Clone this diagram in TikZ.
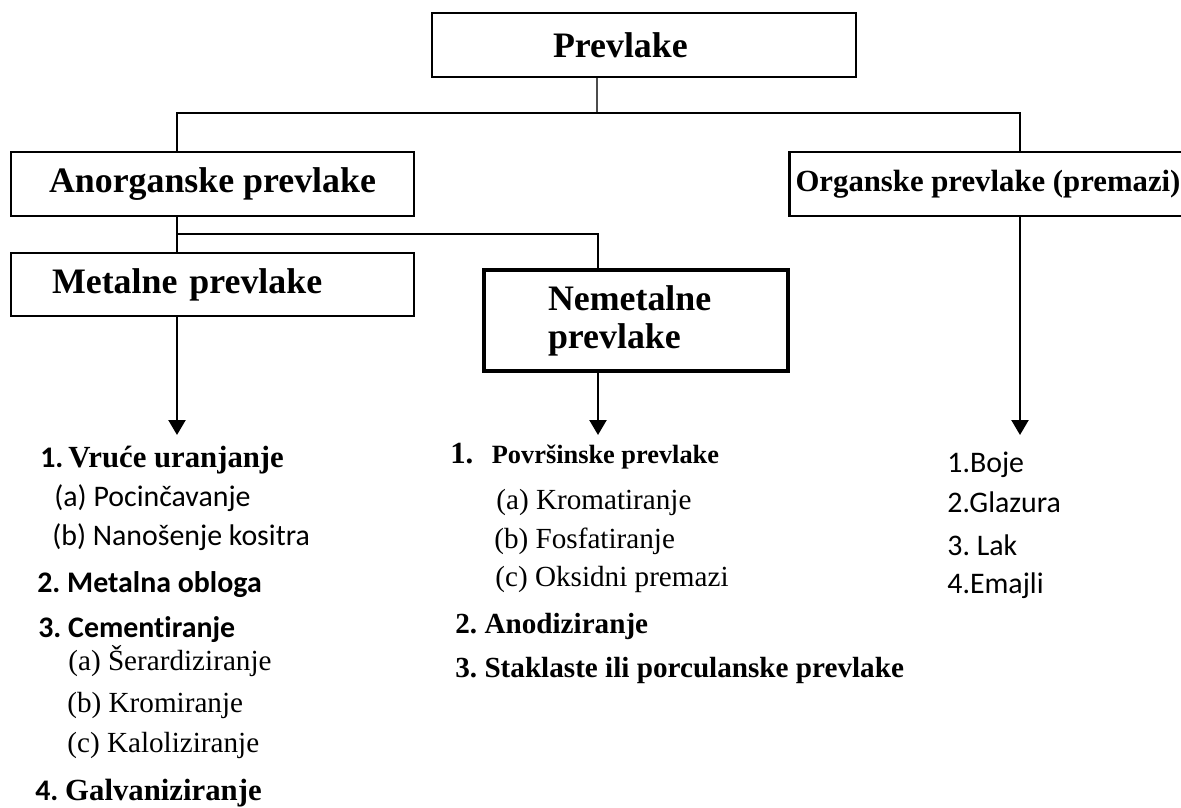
\documentclass[tikz,border=0pt]{standalone}
\usepackage{fontspec}
\setmainfont{Liberation Serif}
\newfontfamily\calfont[Ligatures=NoCommon]{Carlito}
\usepackage{tikz}
\usetikzlibrary{arrows.meta}
\frenchspacing
\newcommand{\calr}{\calfont\mdseries\fontsize{17}{20}\selectfont}
\newcommand{\calb}{\calfont\bfseries\fontsize{17}{20}\selectfont}
\newcommand{\tmr}{\rmfamily\mdseries\fontsize{16.6}{20}\selectfont}
\newcommand{\tmb}{\rmfamily\bfseries\fontsize{17.5}{20}\selectfont}
\newcommand{\tmbs}{\rmfamily\bfseries\fontsize{16.6}{20}\selectfont}
\tikzstyle{conn} = [line width=1.1pt]
\tikzstyle{stem} = [line width=0.6pt, black!70]
\tikzstyle{arrow} = [line width=1.4pt,-{Triangle[width=9.6pt,length=8.5pt]}]
\tikzstyle{box} = [rectangle, draw, line width=1.5pt, inner ysep=0pt, font=\fontsize{20.4}{21.5}\selectfont\bfseries]
\tikzstyle{item} = [anchor=base west, inner sep=0pt]

\begin{document}
\begin{tikzpicture}[x=0.02cm, y=-0.02cm]
    \useasboundingbox (0,0) rectangle (1181,808);

    \node (top)   [box, text width=3.64cm, inner xsep=2.42cm, minimum height=1.28cm, align=left] at (644,45) {Prevlake};
    \node (anorg) [box, minimum width=8.06cm, minimum height=1.28cm] at (212.5,184) {Anorganske prevlake};
    \node (org)   [box, minimum width=7.92cm, minimum height=1.28cm, font=\fontsize{17.5}{20}\selectfont\bfseries] at (988,184) {Organske prevlake (premazi)};
    \node (metal) [box, text width=6.42cm, inner xsep=0.82cm, minimum height=1.26cm, align=left] at (212.5,284.5) {Metalne prevlake};
    \node (nemet) [box, line width=2.2pt, text width=3.52cm, inner xsep=1.28cm, minimum height=2.02cm, align=left] at (636,320.5) {Nemetalne\\prevlake};

    \coordinate (b0) at (597,113);
    \coordinate (b1) at (177,113);
    \coordinate (b2) at (1020,113);
    \coordinate (c1) at (177,234);
    \coordinate (c2) at (598,234);
    \coordinate (t1) at (177,435);
    \coordinate (t2) at (598,435);
    \coordinate (t3) at (1020,435);

    \draw [stem] (b0 |- top.south) -- (b0);
    \draw [conn] (b1 |- anorg.north) -- (b1) -- (b2) -- (b2 |- org.north);
    \draw [conn] (c1 |- anorg.south) -- (c1 |- metal.north);
    \draw [conn] (c1) -- (c2) -- (c2 |- nemet.north);
    \draw [arrow] (t1 |- metal.south) -- (t1);
    \draw [arrow] (t2 |- nemet.south) -- (t2);
    \draw [arrow] (t3 |- org.south) -- (t3);

    \node (m1) [item] at (40,467) {\calb 1.\,{\tmb Vruće uranjanje}};
    \node (m2) [item] at (54,506) {\calr (a) Pocinčavanje};
    \node (m3) [item] at (52,545) {\calr (b) Nanošenje kositra};
    \node (m4) [item] at (37,592) {\calb 2. Metalna obloga};
    \node (m5) [item] at (38,637) {\calb 3. Cementiranje};
    \node (m6) [item] at (68,670) {\tmr (a) Šerardiziranje};
    \node (m7) [item] at (67,712) {\tmr (b) Kromiranje};
    \node (m8) [item] at (67,752) {\tmr (c) Kaloliziranje};
    \node (m9) [item] at (35,800) {\calb 4. {\tmb Galvaniziranje}};

    \node (n1) [item] at (450,463) {\tmb 1.\hspace{0.6em}{\fontsize{15}{18}\selectfont Površinske prevlake}};
    \node (n2) [item] at (496,509) {\tmr (a) Kromatiranje};
    \node (n3) [item] at (494,548) {\tmr (b) Fosfatiranje};
    \node (n4) [item] at (495,586) {\tmr (c) Oksidni premazi};
    \node (n5) [item] at (455,633) {\tmbs 2. Anodiziranje};
    \node (n6) [item] at (455,677) {\tmbs 3. Staklaste ili porculanske prevlake};

    \node (o1) [item] at (947,472) {\calr 1.Boje};
    \node (o2) [item] at (947,512) {\calr 2.Glazura};
    \node (o3) [item] at (947,555) {\calr 3. Lak};
    \node (o4) [item] at (947,593) {\calr 4.Emajli};
\end{tikzpicture}
\end{document}
